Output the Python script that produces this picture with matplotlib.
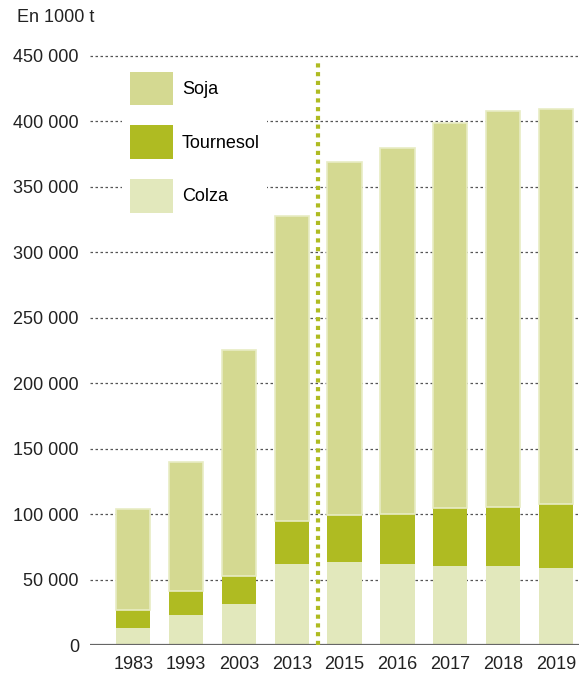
import matplotlib
matplotlib.use("Agg")
import matplotlib.pyplot as plt
from matplotlib.patches import Patch
import numpy as np

years = ["1983", "1993", "2003", "2013", "2015", "2016", "2017", "2018", "2019"]
colza = [13000, 23000, 31500, 62000, 63500, 62000, 60500, 60500, 59000]
tournesol = [13700, 18300, 21200, 33000, 36000, 38000, 44200, 45000, 48700]
soja = [77300, 98700, 172300, 232700, 269700, 279900, 293800, 302800, 302000]
yticks = [0, 50000, 100000, 150000, 200000, 250000, 300000, 350000, 400000, 450000]
ytick_labels = ["0", "50 000", "100 000", "150 000", "200 000", "250 000",
                "300 000", "350 000", "400 000", "450 000"]

c_soja = "#d4d991"
c_tourn = "#afbb22"
c_colza = "#e2e8bc"

plt.rcParams['font.family'] = ['Liberation Sans', 'DejaVu Sans']

fig = plt.figure(figsize=(5.79, 6.74), dpi=100)
ax = fig.add_axes([90/579, 1-645/674, 1-90/579, (645-49.4)/674])

x = np.arange(len(years))
w = 0.65
colza_a = np.array(colza)
tourn_a = np.array(tournesol)
soja_a = np.array(soja)

ax.bar(x, colza_a, w, color=c_colza, edgecolor="none", zorder=3)
ax.bar(x, tourn_a, w, bottom=colza_a, color=c_tourn, edgecolor="none", zorder=3)
ax.bar(x, soja_a, w, bottom=colza_a + tourn_a, color=c_soja, edgecolor="#e8ecc4",
       linewidth=1.2, zorder=3)

ax.set_ylim(0, 455000)
ax.set_xlim(-0.82, 8.44)
ax.set_yticks(yticks)
ax.set_yticklabels(ytick_labels)
ax.set_xticks(x)
ax.set_xticklabels(years)
ax.tick_params(axis='both', length=0, labelsize=13, colors="#222222")
ax.tick_params(axis='y', pad=8)
ax.tick_params(axis='x', pad=8)

for yv in yticks[1:]:
    ax.axhline(yv, color="#555555", lw=0.9, linestyle=(0, (2, 2)), zorder=1)
ax.axhline(0, color="#666666", lw=1.6, zorder=4)

ax.plot([3.5, 3.5], [0, 447000], color=c_tourn, lw=3, linestyle=(0, (1, 1.1)),
        zorder=5, clip_on=False)

for s in ax.spines.values():
    s.set_visible(False)

handles = [Patch(facecolor=c_soja, edgecolor="none", label="Soja"),
           Patch(facecolor=c_tourn, edgecolor="none", label="Tournesol"),
           Patch(facecolor=c_colza, edgecolor="none", label="Colza")]
leg = ax.legend(handles=handles, loc="upper left", bbox_to_anchor=(0.048, 0.99),
                frameon=True, fontsize=13, handlelength=2.4, handleheight=2.5,
                labelspacing=1.1, handletextpad=0.5, borderpad=0.4)
leg.get_frame().set_facecolor("white")
leg.get_frame().set_edgecolor("none")
leg.get_frame().set_alpha(1)
leg.set_zorder(6)

fig.text(17/579, 1-18/674, "En 1000 t", fontsize=13, color="#222222", va="center", ha="left")

fig.savefig("out.png", dpi=100)
